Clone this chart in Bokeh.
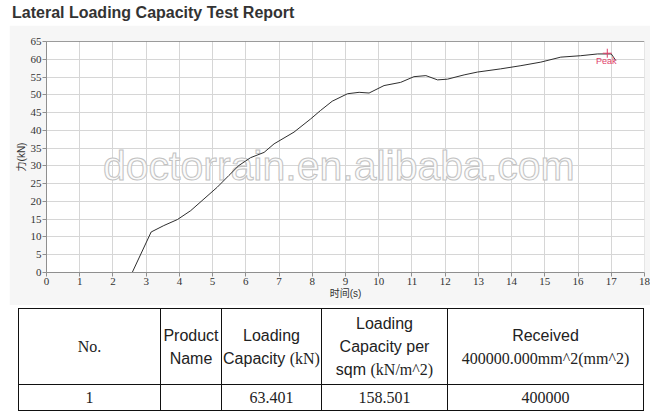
from bokeh.plotting import figure
from bokeh.models import Range1d, Span, Div
from bokeh.layouts import column
from bokeh.embed import file_html
from bokeh.resources import INLINE
from bokeh.core.properties import value

# ---------------- data ----------------
title_text = "Lateral Loading Capacity Test Report"

time_s = [0, 2.58, 3.15, 3.53, 3.94, 4.34, 4.74, 5.14, 5.49, 5.79, 6.14, 6.55,
          6.85, 7.45, 7.95, 8.25, 8.6, 9.06, 9.41, 9.71, 10.16, 10.66, 11.06,
          11.42, 11.77, 12.07, 12.57, 12.97, 13.67, 14.28, 14.88, 15.48, 16.08,
          16.59, 17.0, 17.14]
force_kn = [0, 0, 11.4, 13.2, 14.9, 17.4, 20.7, 24.0, 27.3, 30.1, 32.3, 33.8,
            36.2, 39.5, 43.2, 45.6, 48.2, 50.3, 50.7, 50.5, 52.6, 53.5, 55.1,
            55.4, 54.2, 54.4, 55.6, 56.4, 57.3, 58.2, 59.2, 60.6, 61.0,
            61.5, 61.5, 59.6]

x_ticks = list(range(0, 19))
y_ticks = list(range(0, 70, 5))
x_label = "时间(s)"
y_label = "力(kN)"

peak_time = [16.88]
peak_force = [61.7]
peak_label = ["Peak"]

watermark = ["doctorrain.en.alibaba.com"]

header_no = "No."
header_name = ["Product", "Name"]
header_capacity = ["Loading", "Capacity", "(kN)"]
header_per_sqm = ["Loading", "Capacity per", "sqm", "(kN/m^2)"]
header_received = ["Received", "400000.000mm^2(mm^2)"]
row_values = ["1", "", "63.401", "158.501", "400000"]

SANS = "'Liberation Sans', Arial, sans-serif"
SERIF = "'Liberation Serif', 'Times New Roman', serif"

# ---------------- title ----------------
title_div = Div(
    text=(f'<div style="position:relative; top:4px; left:12px; white-space:nowrap; '
          f'font-family:{SANS}; font-weight:bold; font-size:16px; line-height:17px; '
          f'color:#333333;">{title_text}</div>'),
    width=644, height=25, margin=(0, 0, 0, 0))

# ---------------- chart ----------------
p = figure(width=641, height=280, x_range=Range1d(0, 18), y_range=Range1d(0, 65),
           toolbar_location=None, output_backend="svg",
           min_border_left=37, min_border_right=6, min_border_top=16, min_border_bottom=33,
           border_fill_color="#f6f6f6", background_fill_color="#ffffff",
           outline_line_color=None, margin=(0, 0, 0, 9))

for ax, ticks in ((p.xaxis, x_ticks), (p.yaxis, y_ticks)):
    ax.ticker = ticks
    ax.axis_line_color = "#8f8f8f"
    ax.major_tick_line_color = "#8f8f8f"
    ax.major_tick_in = 0
    ax.major_tick_out = 4
    ax.minor_tick_line_color = None
    ax.major_label_text_font = "Liberation Serif"
    ax.major_label_text_font_size = "11px"
    ax.major_label_text_color = "#333333"
    ax.axis_label_text_font = "Liberation Sans, Noto Sans CJK SC"
    ax.axis_label_text_font_size = "10px"
    ax.axis_label_text_font_style = "normal"
    ax.axis_label_text_color = "#333333"

p.xaxis.axis_label = x_label
p.yaxis.axis_label = y_label
p.xaxis.major_label_standoff = 1
p.xaxis.axis_label_standoff = 0
p.yaxis.major_label_standoff = 1
p.yaxis.axis_label_standoff = 1

p.xgrid.grid_line_color = "#d6d6d6"
p.ygrid.grid_line_color = "#d6d6d6"

p.add_layout(Span(location=65, dimension="width", line_color="#3a3a3a", line_width=1))
p.add_layout(Span(location=18, dimension="height", line_color="#cfcfcf", line_width=1))

p.text(x=[8.8], y=[30.1], text=watermark, text_font=value("Liberation Sans"),
       text_font_size="41px", text_color="#fbfbfb", text_outline_color="#c2c2c2",
       text_align="center", text_baseline="alphabetic")

p.line(time_s, force_kn, line_color="#2e2e2e", line_width=1)

p.scatter(peak_time, peak_force, marker="cross", size=9, line_color="#e0406a", line_width=1)
p.text(x=peak_time, y=peak_force, text=peak_label, y_offset=8, x_offset=-1,
       text_font=value("Liberation Sans"), text_font_size="9px", text_color="#e0406a",
       text_align="center", text_baseline="middle")

# ---------------- table ----------------
col_widths = [142, 61, 100, 126, 196]
header_height = 76
row_height = 26

def serif(s):
    return f'<span style="font-family:{SERIF}">{s}</span>'

header_cells = [
    serif(header_no),
    "<br>".join(header_name),
    f"{header_capacity[0]}<br>{header_capacity[1]} {serif(header_capacity[2])}",
    f"{header_per_sqm[0]}<br>{header_per_sqm[1]}<br>{header_per_sqm[2]} {serif(header_per_sqm[3])}",
    f"{header_received[0]}<br>{serif(header_received[1])}",
]

cell_style = ("border:1px solid #111111; padding:0; text-align:center; "
              "vertical-align:middle; line-height:23px;")
colgroup = "".join(f'<col style="width:{w}px">' for w in col_widths)
head_tr = "".join(f'<td style="{cell_style}">{c}</td>' for c in header_cells)
row_tr = "".join(f'<td style="{cell_style} font-family:{SERIF};">{v}</td>' for v in row_values)

table_html = (
    f'<table style="border-collapse:collapse; table-layout:fixed; width:{sum(col_widths) + 1}px; '
    f'margin:3px 0 0 18px; font-family:{SANS}; font-size:16px; color:#222222;">'
    f'<colgroup>{colgroup}</colgroup>'
    f'<tr style="height:{header_height}px">{head_tr}</tr>'
    f'<tr style="height:{row_height}px">{row_tr}</tr>'
    f'</table>'
)
table_div = Div(text=table_html, width=660, height=106, margin=(0, 0, 0, 0))

layout = column(title_div, p, table_div, spacing=0)
open("out.html", "w").write(file_html(layout, INLINE))
